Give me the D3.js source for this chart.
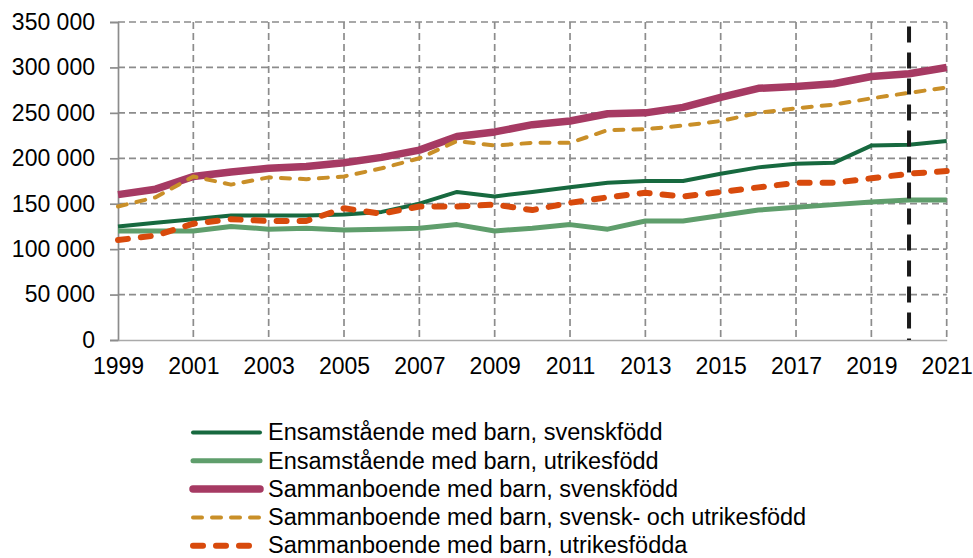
<!DOCTYPE html>
<html>
<head>
<meta charset="utf-8">
<script src="https://cdn.jsdelivr.net/npm/d3@7"></script>
<style>
  body { margin: 0; background: #fff; }
  svg text { font-family: "Liberation Sans", Arial, sans-serif; fill: #000; }
</style>
</head>
<body>
<svg id="chart" width="973" height="558"></svg>
<script>
"use strict";

const years = d3.range(1999, 2022);
const yTicks = [0, 50000, 100000, 150000, 200000, 250000, 300000, 350000];
const xTicks = [1999, 2001, 2003, 2005, 2007, 2009, 2011, 2013, 2015, 2017, 2019, 2021];
const markerYear = 2020;

const ensSvensk = [125000, 129000, 133000, 137000, 137000, 137000, 138000, 141000, 150000, 163000, 158000, 163000,
                   168000, 173000, 175000, 175000, 183000, 190000, 194000, 195000, 214000, 215000, 219000];
const ensUtrikes = [120000, 120000, 120000, 125000, 122000, 123000, 121000, 122000, 123000, 127000, 120000, 123000,
                    127000, 122000, 131000, 131000, 137000, 143000, 146000, 149000, 152000, 154000, 154000];
const samSvensk = [160000, 166000, 180000, 185000, 189000, 191000, 195000, 201000, 209000, 224000, 229000, 237000,
                   241000, 249000, 250000, 256000, 267000, 277000, 279000, 282000, 290000, 293000, 300000];
const samBlandad = [147000, 157000, 180000, 171000, 179000, 177000, 180000, 189000, 200000, 219000, 214000, 217000,
                    217000, 231000, 232000, 236000, 241000, 250000, 255000, 259000, 266000, 272000, 278000];
const samUtrikes = [110000, 115000, 128000, 133000, 131000, 131000, 145000, 139000, 147000, 147000, 149000, 143000,
                    151000, 157000, 162000, 158000, 163000, 168000, 173000, 173000, 178000, 183000, 186000];

const seriesNames = [
    "Ensamstående med barn, svenskfödd",
    "Ensamstående med barn, utrikesfödd",
    "Sammanboende med barn, svenskfödd",
    "Sammanboende med barn, svensk- och utrikesfödd",
    "Sammanboende med barn, utrikesfödda"
];

// style for each series, same order as names
const styles = [
    {values: ensSvensk,  color: "#17693f", width: 4,   dash: null},
    {values: ensUtrikes, color: "#5f9e6c", width: 5,   dash: null},
    {values: samSvensk,  color: "#a63a63", width: 7.5, dash: null},
    {values: samBlandad, color: "#c98f28", width: 4,   dash: "9,10"},
    {values: samUtrikes, color: "#d84a0c", width: 6,   dash: "10,13"}
];

const svg = d3.select("#chart");
const LEFT = 118, RIGHT = 946.7, TOP = 22, BOTTOM = 340;

let x = d3.scaleLinear().domain([1999, 2021]).range([LEFT, RIGHT]);
let y = d3.scaleLinear().domain([0, 350000]).range([BOTTOM, TOP]);

const fmt = v => d3.format(",")(v).replace(/,/g, " ");

// horizontal grid
svg.append("g")
   .selectAll("line")
   .data(yTicks.filter(t => t > 0))
   .join("line")
   .attr("x1", LEFT).attr("x2", RIGHT)
   .attr("y1", d => y(d)).attr("y2", d => y(d))
   .attr("stroke", "#8c8c8c").attr("stroke-width", 1.7)
   .attr("stroke-dasharray", "7,4");

// vertical grid
svg.append("g")
   .selectAll("line")
   .data(xTicks.filter(t => t > 1999))
   .join("line")
   .attr("x1", d => x(d)).attr("x2", d => x(d))
   .attr("y1", TOP).attr("y2", BOTTOM)
   .attr("stroke", "#8c8c8c").attr("stroke-width", 1.7)
   .attr("stroke-dasharray", "7,4");

// y axis
let yAxis = svg.append("g")
   .attr("transform", "translate(" + LEFT + ",0)")
   .call(d3.axisLeft(y).tickValues(yTicks).tickSize(8).tickPadding(15).tickFormat(fmt));
yAxis.select(".domain").attr("stroke", "#8c8c8c").attr("stroke-width", 1.7);
yAxis.selectAll(".tick line").attr("stroke", "#8c8c8c").attr("stroke-width", 1.7);
yAxis.selectAll("text").attr("font-size", 23).attr("fill", "#000");

// x axis
let xAxis = svg.append("g")
   .attr("transform", "translate(0," + BOTTOM + ")")
   .call(d3.axisBottom(x).tickValues(xTicks).tickSize(0).tickPadding(18).tickFormat(d3.format("d")));
xAxis.select(".domain").attr("stroke", "#aaaaaa").attr("stroke-width", 1.7);
xAxis.selectAll("text").attr("font-size", 23).attr("fill", "#000");

// series lines
let line = d3.line()
             .x((d, i) => x(years[i]))
             .y(d => y(d));

styles.forEach(s =>
{
    svg.append("path")
       .datum(s.values)
       .attr("fill", "none")
       .attr("stroke", s.color)
       .attr("stroke-width", s.width)
       .attr("stroke-dasharray", s.dash)
       .attr("stroke-linecap", s.dash ? "round" : "butt")
       .attr("stroke-linejoin", "round")
       .attr("d", line);
});

// marker for 2020
svg.append("line")
   .attr("x1", x(markerYear)).attr("x2", x(markerYear))
   .attr("y1", y(345000)).attr("y2", BOTTOM)
   .attr("stroke", "#1a1a1a").attr("stroke-width", 4)
   .attr("stroke-dasharray", "16,10");

// legend
let legend = svg.append("g").attr("transform", "translate(190,432.5)");
seriesNames.forEach((name, i) =>
{
    let s = styles[i];
    let g = legend.append("g").attr("transform", "translate(0," + (i * 28.3) + ")");
    g.append("line")
     .attr("x1", 3).attr("x2", 70).attr("y1", 0).attr("y2", 0)
     .attr("stroke", s.color).attr("stroke-width", s.width)
     .attr("stroke-dasharray", s.dash)
     .attr("stroke-linecap", "round");
    g.append("text")
     .attr("x", 78).attr("y", 0).attr("dy", "0.33em")
     .attr("font-size", 23.5)
     .text(name);
});
</script>
</body>
</html>
